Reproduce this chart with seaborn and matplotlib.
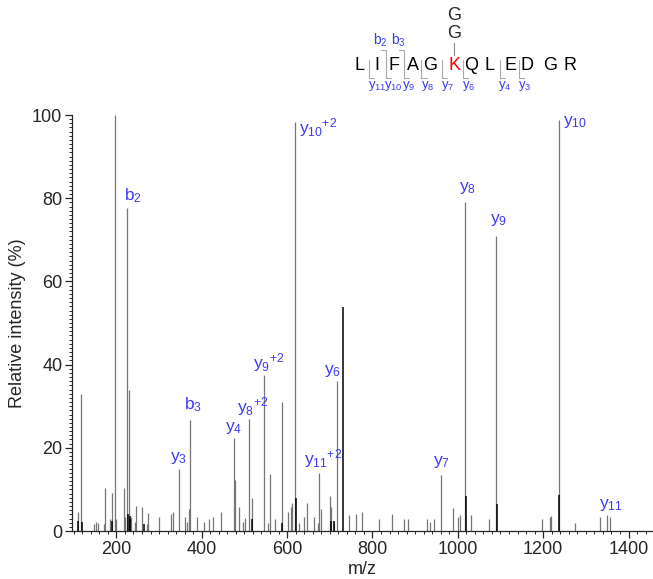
import matplotlib
matplotlib.use("Agg")
import matplotlib.pyplot as plt
import seaborn as sns
import numpy as np
from matplotlib.ticker import MultipleLocator
from matplotlib.lines import Line2D

# unlabelled peaks (m/z, relative intensity %)
peak_mz = [109, 118, 147, 152, 157, 170, 173, 184, 189, 197, 200, 218, 220, 230,
           235, 244, 247, 261, 271, 275, 299, 329, 332, 361, 365, 370, 389, 405,
           416, 427, 445, 479, 488, 496, 501, 518, 556, 561, 572, 589, 601, 609,
           612, 628, 640, 647, 664, 672, 680, 701, 704, 709, 745, 761, 776, 816,
           845, 874, 883, 927, 936, 945, 988, 1001, 1005, 1031, 1074, 1198, 1216,
           1219, 1274, 1333, 1357]
peak_int = [4.6, 33.0, 1.7, 2.2, 2.0, 1.7, 10.4, 3.0, 9.2, 100.0, 2.9, 10.3, 3.4, 33.9,
            3.4, 2.2, 6.0, 5.7, 1.7, 4.4, 3.3, 4.0, 4.6, 3.3, 2.2, 5.4, 3.3, 2.2,
            3.0, 3.4, 4.6, 12.3, 5.8, 2.2, 3.2, 8.0, 2.0, 13.7, 3.0, 31.0, 4.5, 5.7,
            6.7, 2.0, 3.3, 6.7, 3.3, 2.0, 5.3, 8.5, 5.7, 2.2, 3.8, 4.2, 4.6, 3.0,
            4.2, 3.0, 2.8, 3.0, 2.2, 2.8, 5.6, 3.4, 3.8, 3.8, 3.0, 3.0, 3.4,
            3.6, 2.0, 3.3, 3.3]

# peaks drawn in black
dark_mz = [110, 120, 189, 228, 231, 233, 264, 518, 589, 621, 704, 709, 732, 1019, 1091, 1238]
dark_int = [2.5, 2.2, 2.5, 4.2, 3.5, 3.0, 1.8, 3.0, 2.0, 7.9, 2.5, 2.3, 53.8, 8.3, 6.5, 8.7]

# annotated fragment ions
ion_names = ["b$_2$", "b$_3$", "y$_3$", "y$_4$", "y$_8$$^{+2}$", "y$_9$$^{+2}$",
             "y$_{10}$$^{+2}$", "y$_{11}$$^{+2}$", "y$_6$", "y$_7$", "y$_8$",
             "y$_9$", "y$_{10}$", "y$_{11}$"]
ion_mz = [226, 373, 346, 476, 510, 546, 619, 675, 718, 961, 1018, 1090, 1237, 1350]
ion_int = [77.6, 26.7, 15.0, 22.3, 27.0, 37.5, 98.2, 13.9, 36.0, 13.5, 79.0, 71.0, 98.7, 3.8]
# label offsets in pixels (dx, dy) from peak top
ion_offsets = [(-3, 13), (-6, 15), (-9, 11), (-9, 10), (-12, 12), (-11, 12),
               (4, -5), (-15, 15), (-13, 10), (-8, 13), (-6, 14), (-6, 16),
               (4, -2), (-8, 10)]

sequence = "LIFAGKQLEDGR"
letter_x = [360, 377, 394, 413, 430, 454, 471, 489, 510, 527.3, 550, 570]
b_ions = {2: "b$_2$", 3: "b$_3$"}
y_ions = {11: "y$_{11}$", 10: "y$_{10}$", 9: "y$_9$", 8: "y$_8$", 7: "y$_7$",
          6: "y$_6$", 4: "y$_4$", 3: "y$_3$"}

BLUE = "#3b3bf5"
W, H = 653, 579

sns.set_style("ticks")
plt.rcParams["font.family"] = ["Liberation Sans", "DejaVu Sans"]
plt.rcParams["mathtext.default"] = "regular"

fig = plt.figure(figsize=(W / 100, H / 100), dpi=100)
ax = fig.add_axes([72 / W, 1 - 531 / H, (652 - 72) / W, (531 - 115) / H])

all_mz = peak_mz + ion_mz
all_int = peak_int + ion_int
ax.vlines(all_mz, 0, all_int, color="#767676", linewidth=0.9)
ax.vlines(dark_mz, 0, dark_int, color="black", linewidth=1.1)

for name, mz, inten, (dx, dy) in zip(ion_names, ion_mz, ion_int, ion_offsets):
    ax.annotate(name, xy=(mz, inten), xytext=(dx, dy), textcoords="offset pixels",
                ha="left", va="center", color=BLUE, fontsize=12.5)

ax.set_xlim(96, 1455)
ax.set_ylim(0, 100)
ax.xaxis.set_major_locator(MultipleLocator(200))
ax.xaxis.set_minor_locator(MultipleLocator(20))
ax.yaxis.set_major_locator(MultipleLocator(20))
ax.yaxis.set_minor_locator(MultipleLocator(1))
ax.tick_params(which="major", direction="out", length=5, width=0.9, labelsize=13, pad=2)
ax.tick_params(which="minor", direction="out", length=2.5, width=0.7)
for s in ["left", "bottom"]:
    ax.spines[s].set_linewidth(0.9)
sns.despine(ax=ax)
ax.set_xlabel("m/z", fontsize=13, labelpad=2)
ax.set_ylabel("Relative intensity (%)", fontsize=13, labelpad=4)


def fx(px):
    return px / W


def fy(py):
    return 1 - py / H


# peptide sequence header
for i, (res, x) in enumerate(zip(sequence, letter_x)):
    fig.text(fx(x), fy(65), res, ha="center", va="center", fontsize=13,
             color="red" if res == "K" else "black")
k_x = letter_x[sequence.index("K")]
fig.text(fx(k_x), fy(15), "G", ha="center", va="center", fontsize=13)
fig.text(fx(k_x), fy(33), "G", ha="center", va="center", fontsize=13)
fig.add_artist(Line2D([fx(k_x), fx(k_x)], [fy(43), fy(55)], color="#888888", lw=0.8))

n = len(sequence)
cuts = [(letter_x[i] + letter_x[i + 1]) / 2 for i in range(n - 1)]
for k, lab in b_ions.items():
    c = cuts[k - 1]
    fig.add_artist(Line2D([fx(c - 5), fx(c), fx(c)], [fy(50), fy(50), fy(66)],
                          color="#aaaaaa", lw=0.8))
    fig.text(fx(c + 2), fy(40), lab, ha="right", va="center", color=BLUE, fontsize=10)
for k, lab in y_ions.items():
    c = cuts[n - k - 1]
    fig.add_artist(Line2D([fx(c), fx(c), fx(c + 5)], [fy(60), fy(78), fy(78)],
                          color="#aaaaaa", lw=0.8))
    fig.text(fx(c - 1), fy(86), lab, ha="left", va="center", color=BLUE, fontsize=9.5)

fig.savefig("out.png", dpi=100)
